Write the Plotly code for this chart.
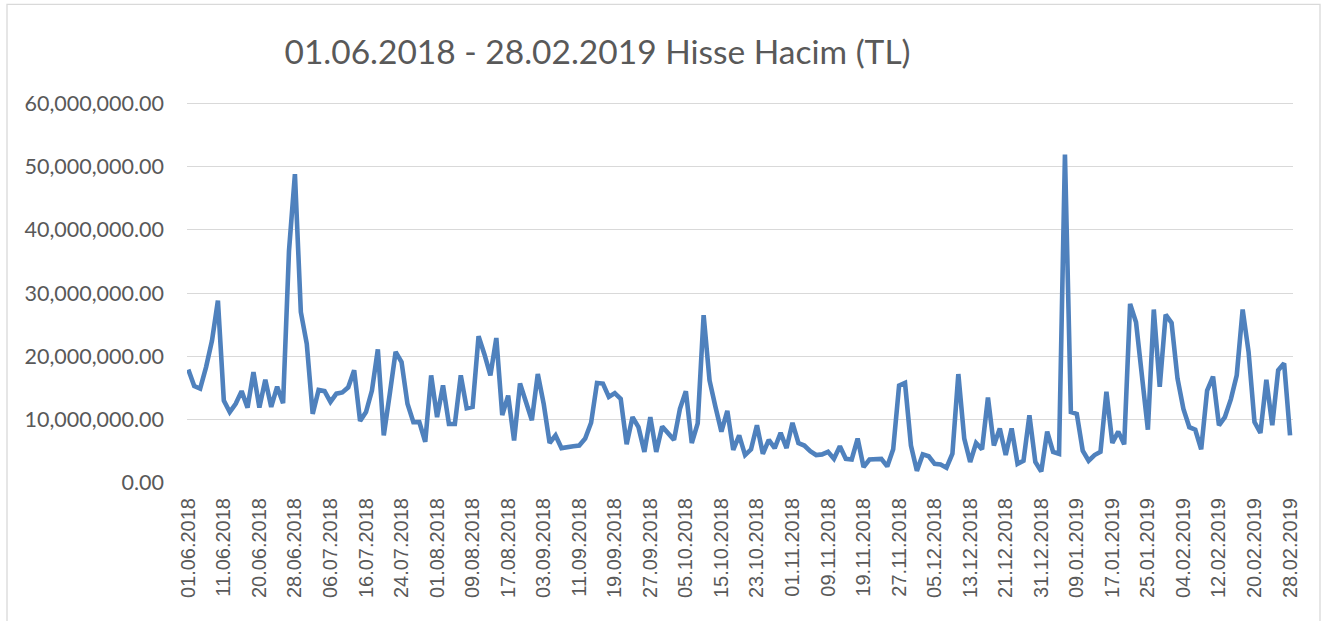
import pandas as pd
import plotly.graph_objects as go

# Trading days (Borsa Istanbul) between 01.06.2018 and 28.02.2019
start_date = "2018-06-01"
end_date = "2019-02-28"
holidays = ["2018-06-15", "2018-08-21", "2018-08-22", "2018-08-23", "2018-08-24",
            "2018-08-30", "2018-10-29", "2019-01-01"]
days = [d for d in pd.bdate_range(start_date, end_date) if d.strftime("%Y-%m-%d") not in holidays]
dates = [d.strftime("%d.%m.%Y") for d in days]

# Daily volume in millions TL
volume_m = [
    17.9, 15.3, 14.9, 18.3, 22.5, 28.8, 13.0, 11.2, 12.5, 14.5,
    11.9, 17.5, 11.9, 16.3, 12.0, 15.2, 12.6, 36.7, 48.8, 27.0,
    22.0, 10.9, 14.7, 14.5, 12.8, 14.1, 14.3, 15.1, 17.8, 9.8,
    11.2, 14.6, 21.1, 7.5, 14.0, 20.7, 19.1, 12.5, 9.6, 9.6,
    6.5, 17.0, 10.4, 15.4, 9.3, 9.3, 17.0, 11.8, 12.0, 23.2,
    20.3, 17.0, 22.9, 10.7, 13.8, 6.7, 15.7, 12.5, 9.9, 17.2,
    12.5, 6.3, 7.5, 5.5, 5.7, 5.8, 5.9, 7.0, 9.5, 15.8,
    15.7, 13.6, 14.2, 13.3, 6.1, 10.4, 8.8, 4.9, 10.4, 4.9,
    8.9, 7.8, 6.8, 11.7, 14.5, 6.3, 9.4, 26.5, 16.2, 12.0,
    8.1, 11.4, 5.2, 7.5, 4.4, 5.3, 9.1, 4.6, 6.8, 5.5,
    7.9, 5.5, 9.5, 6.3, 5.9, 5.0, 4.4, 4.5, 4.9, 3.8,
    5.8, 3.8, 3.7, 7.0, 2.5, 3.7, 3.8, 3.8, 2.6, 5.3,
    15.4, 15.8, 5.9, 1.9, 4.5, 4.2, 3.0, 2.9, 2.4, 4.6,
    17.2, 7.0, 3.3, 6.3, 5.3, 13.5, 5.9, 8.6, 4.4, 8.6,
    3.0, 3.5, 10.7, 3.3, 1.8, 8.1, 4.9, 4.6, 51.9, 11.2,
    10.9, 5.1, 3.5, 4.4, 4.9, 14.4, 6.3, 8.1, 6.1, 28.3,
    25.4, 16.5, 8.4, 27.4, 15.2, 26.6, 25.3, 16.5, 11.7, 8.8,
    8.4, 5.3, 14.6, 16.8, 9.1, 10.4, 13.2, 17.0, 27.4, 20.7,
    9.6, 7.9, 16.3, 9.1, 17.8, 18.9, 7.5,
]
volume = [v * 1e6 for v in volume_m]

tick_labels = dates[::6]
y_ticks = [0, 10e6, 20e6, 30e6, 40e6, 50e6, 60e6]
y_tick_text = ["{:,.2f}".format(v) for v in y_ticks]

title_text = "01.06.2018 - 28.02.2019 Hisse Hacim (TL)"

fig = go.Figure()
fig.add_trace(go.Scatter(
    x=dates, y=volume, mode="lines",
    line=dict(color="#4F81BD", width=4.6),
    hoverinfo="x+y",
))

W, H = 1327, 621
y_lo, y_hi = -0.02e6, 61e6
px_per_unit = 380 / 60e6          # 0 -> y=483, 60M -> y=103
B = (H - 483) - (0 - y_lo) * px_per_unit
ph = (y_hi - y_lo) * px_per_unit
T = H - B - ph
L, R = 187, 34
pw = W - L - R

fig.update_layout(
    width=W, height=H,
    margin=dict(l=L, r=R, t=T, b=B, autoexpand=False),
    paper_bgcolor="white", plot_bgcolor="white",
    showlegend=False,
    title=dict(text=title_text, x=597.5 / W, y=1 - 52 / H, xref="container", yref="container",
               xanchor="center", yanchor="middle",
               font=dict(family="Lato, Open Sans, sans-serif", size=33.5, color="#595959")),
    xaxis=dict(
        type="category", range=[-0.22, 186.5],
        tickmode="array", tickvals=tick_labels, ticktext=tick_labels,
        tickangle=-90, showgrid=False, showline=False, zeroline=False,
        ticks="", ticklabelstandoff=10,
        tickfont=dict(family="Liberation Sans, Arial, sans-serif", size=20, color="#595959"),
    ),
    yaxis=dict(
        range=[y_lo, y_hi], tickmode="array", tickvals=y_ticks, ticktext=y_tick_text,
        showgrid=True, gridcolor="#D9D9D9", gridwidth=1.3, zeroline=False, showline=False,
        ticks="", ticklabelstandoff=22,
        tickfont=dict(family="Lato, Open Sans, sans-serif", size=21.5, color="#595959"),
    ),
    shapes=[dict(
        type="rect", xref="paper", yref="paper",
        x0=(7 - L) / pw, x1=(1320 - L) / pw,
        y0=(H - B - 640) / ph, y1=(H - B - 4) / ph,
        line=dict(color="#D9D9D9", width=1.3), fillcolor="rgba(0,0,0,0)", layer="below",
    )],
)

fig.write_html("out.html", config={"displayModeBar": False},
               post_script="document.body.style.margin='0';")
